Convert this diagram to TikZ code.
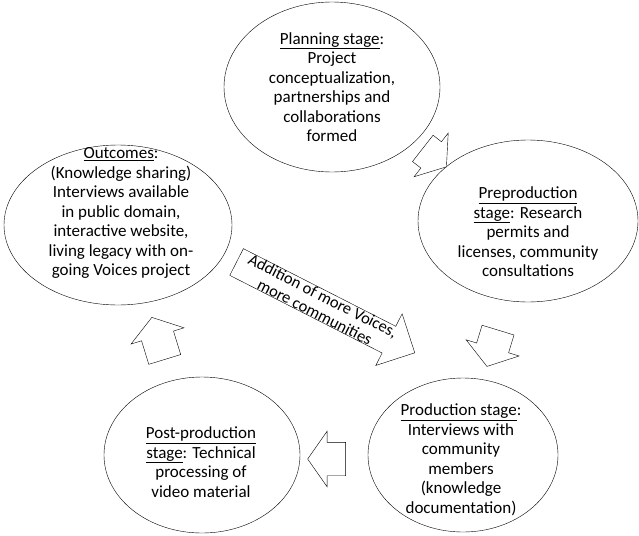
\documentclass[tikz,border=0pt]{standalone}
\usepackage{fontspec}
\setmainfont{Carlito}
\usetikzlibrary{shapes.geometric,shapes.arrows,calc}

\tikzset{
    stage/.style={ellipse,draw=black,thin,inner sep=0pt},
    stagetext/.style={align=center,inner sep=0pt,font=\fontsize{17}{19.5}\selectfont},
    blockarrow/.style={single arrow,draw=black,thin,fill=white,inner xsep=0pt,inner ysep=16.5pt,
        minimum height=38pt,single arrow head extend=11pt,single arrow tip angle=110},
}

\begin{document}
\begin{tikzpicture}[x=1pt,y=-1pt]
                \useasboundingbox (0,0) rectangle (639,535);

                \node[stage,minimum width=216pt,minimum height=170pt] (plan) at (332,87) {};
                \node[stage,minimum width=220pt,minimum height=162pt] (prep) at (528,221) {};
                \node[stage,minimum width=228pt,minimum height=160pt] (out) at (118,225) {};
                \node[stage,minimum width=190pt,minimum height=154pt] (prod) at (463,455) {};
                \node[stage,minimum width=196pt,minimum height=156pt] (post) at (202,455) {};

                \node[stagetext] (plan-txt) at (332,87) {\underline{Planning stage}:\\Project\\conceptualization,\\partnerships and\\collaborations\\formed};
                \node[stagetext] (prep-txt) at (528,232) {\underline{Preproduction}\\\underline{stage}: Research\\permits and\\licenses, community\\consultations};
                \node[stagetext] (out-txt) at (121,213) {\underline{Outcomes}:\\(Knowledge sharing)\\Interviews available\\in public domain,\\interactive website,\\living legacy with on-\\going Voices project};
                \node[stagetext] (prod-txt) at (461,460) {\underline{Production stage}:\\Interviews with\\community\\members\\(knowledge\\documentation)};
                \node[stagetext] (post-txt) at (201,462) {\underline{Post-production}\\\underline{stage}: Technical\\processing of\\video material};

                \node[blockarrow,minimum height=30pt,rotate=-38] (plan-prep) at ($(plan)!0.5!(prep)$) {};
                \node[blockarrow,rotate=-107] (prep-prod) at ($(prep)!0.52!(prod)$) {};
                \node[blockarrow,rotate=180] (prod-post) at ($(prod)!0.5!(post)+(0,4)$) {};
                \node[blockarrow,minimum height=44pt,rotate=107] (post-out) at ($(post)!0.5!(out)+(0,4)$) {};

                \node[single arrow,draw=black,thin,fill=white,inner sep=0pt,align=center,
                    minimum height=200pt,single arrow head extend=14pt,
                    font=\fontsize{16.5}{18}\selectfont,rotate=-27] (more) at (319,304) {Addition of more Voices,\\more communities};
\end{tikzpicture}
\end{document}
